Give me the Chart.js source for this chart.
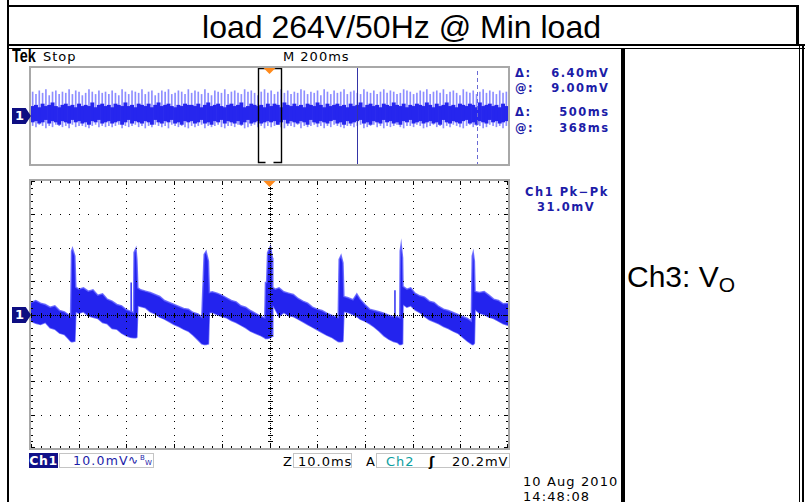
<!DOCTYPE html>
<html>
<head>
<meta charset="utf-8">
<script src="https://cdn.jsdelivr.net/npm/chart.js@4.4.0/dist/chart.umd.min.js"></script>
<style>
  html, body { margin: 0; padding: 0; background: #fff; }
  body { width: 811px; height: 502px; position: relative; overflow: hidden; }
  .ln { position: absolute; background: #000; }
  .t { position: absolute; white-space: nowrap; line-height: 1; font-family: "DejaVu Sans", sans-serif; }
  .blue { color: #1c1ca8; font-weight: bold; font-size: 11.5px; letter-spacing: 1.5px; }
  .blk { color: #000; font-size: 13px; letter-spacing: 1px; }
  .frame { position: absolute; border: 2px solid #a8a8a8; }
  .sbox { position: absolute; border: 1px solid #c4c4c4; height: 15px; box-sizing: border-box; }
  .gnd { position: absolute; width: 19px; height: 16px; background: #0e0e82; color: #fff;
         font: bold 13px "DejaVu Sans", sans-serif; line-height: 16px; padding-left: 3px; box-sizing: border-box;
         clip-path: polygon(0 0, 72% 0, 100% 50%, 72% 100%, 0 100%); }
  canvas { position: absolute; }
</style>
</head>
<body>
<!-- table frame -->
<div class="ln" style="left:7px;top:5px;width:792px;height:2px"></div>
<div class="ln" style="left:7px;top:0;width:2px;height:502px"></div>
<div class="ln" style="left:796px;top:5px;width:3px;height:41px"></div>
<div class="ln" style="left:7px;top:44px;width:798px;height:2px"></div>
<div class="ln" style="left:7px;top:48px;width:798px;height:1px"></div>
<div class="ln" style="left:621px;top:48px;width:4px;height:454px"></div>
<div class="ln" style="left:799px;top:44px;width:1px;height:458px"></div>
<div class="ln" style="left:802px;top:44px;width:2px;height:458px"></div>

<div class="t" style="left:7px;width:789px;top:11px;text-align:center;font:32px 'Liberation Sans', Arial, sans-serif;line-height:1">load 264V/50Hz @ Min load</div>
<div class="t" style="left:627px;top:262px;font:30px 'Liberation Sans', Arial, sans-serif;line-height:1">Ch3: V<span style="font-size:21px;position:relative;top:5px">O</span></div>

<!-- scope header -->
<div class="t" style="left:12px;top:47px;font:bold 18px 'Liberation Sans', Arial, sans-serif;line-height:1;transform:scaleX(.8);transform-origin:0 0">Tek</div>
<div class="t blk" style="left:43px;top:50px">Stop</div>
<div class="t blk" style="left:283px;top:50px">M 200ms</div>

<div class="t blue" style="left:515px;top:68px">Δ:</div>
<div class="t blue" style="left:540px;top:68px;width:69.5px;text-align:right">6.40mV</div>
<div class="t blue" style="left:515px;top:83px">@:</div>
<div class="t blue" style="left:540px;top:83px;width:69.5px;text-align:right">9.00mV</div>
<div class="t blue" style="left:515px;top:107px">Δ:</div>
<div class="t blue" style="left:540px;top:107px;width:69.5px;text-align:right">500ms</div>
<div class="t blue" style="left:515px;top:123px">@:</div>
<div class="t blue" style="left:540px;top:123px;width:69.5px;text-align:right">368ms</div>

<div class="t blue" style="left:525px;top:187px">Ch1 Pk−Pk</div>
<div class="t blue" style="left:537px;top:202px">31.0mV</div>

<!-- graticule frames and charts -->
<div class="frame" style="left:29px;top:66px;width:477px;height:96px"></div>
<canvas id="overview" width="477" height="96" style="left:31px;top:68px"></canvas>
<div class="frame" style="left:29px;top:179px;width:477px;height:267px"></div>
<canvas id="main" width="477" height="267" style="left:31px;top:181px"></canvas>

<div class="gnd" style="left:12px;top:108px">1</div>
<div class="gnd" style="left:12px;top:307px">1</div>

<!-- status line -->
<div class="t" style="left:29px;top:453px;width:29px;height:15px;background:#101088;color:#fff;font-weight:bold;font-size:12.5px;line-height:15px;text-align:center;letter-spacing:.5px">Ch1</div>
<div class="sbox" style="left:59px;top:453px;width:95px"></div>
<div class="t blue" style="left:73px;top:455px;font-size:12.5px;font-weight:normal;letter-spacing:1.2px">10.0mV</div>
<div class="t" style="left:128px;top:454px;color:#1c1ca8;font-size:12px">∿</div>
<div class="t" style="left:140px;top:455px;color:#1c1ca8;font-size:7px">B</div>
<div class="t" style="left:145px;top:460px;color:#1c1ca8;font-size:7px">W</div>

<div class="t blk" style="left:283px;top:455px">Z</div>
<div class="sbox" style="left:293px;top:453px;width:59px"></div>
<div class="t blk" style="left:298px;top:455px">10.0ms</div>
<div class="t blk" style="left:366px;top:455px">A</div>
<div class="sbox" style="left:376px;top:453px;width:134px"></div>
<div class="t blk" style="left:386px;top:455px;color:#0a9ea0">Ch2</div>
<div class="t blk" style="left:429px;top:455px;font-weight:bold">ʃ</div>
<div class="t blk" style="left:452px;top:455px">20.2mV</div>

<div class="t blk" style="left:523px;top:475px;letter-spacing:1.1px">10 Aug 2010</div>
<div class="t blk" style="left:523px;top:490px;letter-spacing:1.1px">14:48:08</div>

<script>
// Main window: Ch1 ripple, 10 ms/div, 10 mV/div, time relative to trigger (ms)
const traceT = [
  -50, -49, -48, -47, -46, -45, -44, -43, -42.2, -41.7,
  -41.5, -41.3, -40.8, -40.6,
  -40, -39, -38, -37, -36, -35, -34, -33, -32, -31, -30, -29.2, -28.5,
  -28.4, -28.0, -27.8, -27.6,
  -27, -26, -25, -24, -23, -22, -21, -20, -19, -18, -17, -16, -15, -14.2,
  -13.7, -13.3, -12.8, -12.6,
  -12, -11, -10, -9, -8, -7, -6, -5, -4, -3, -2, -1,
  -0.85, -0.6, -0.4, 0.2, 0.6, 0.7,
  1.2, 2, 3, 4, 5, 6, 7, 8, 9, 10, 11, 12, 13, 14.4,
  14.6, 15.0, 15.4, 15.6,
  16.5, 17.5, 18.3, 19, 20, 21, 22, 23, 24, 25, 26, 26.8, 27.3,
  27.4, 27.6, 27.9, 28.0,
  28.8, 29.6, 30.5, 31.5, 32.5, 33.5, 34.5, 35.5, 36.5, 37.5, 38.5, 39.5, 40.5, 41.5, 42.3,
  42.5, 42.7, 42.95, 43.1,
  44, 45, 46, 47, 48, 49, 50
];
const traceHi = [
  3.6, 4.2, 3.4, 3.0, 2.2, 2.6, 1.2, 0.8, 0.0, -0.6,
  19.0, 19.8, 17.5, 8.2,
  7.6, 8.0, 7.0, 7.4, 5.8, 6.2, 4.6, 4.0, 3.0, 2.6, 1.4, 1.0, 0.6,
  18.6, 19.8, 16.5, 8.0,
  7.4, 7.0, 6.6, 6.0, 5.4, 4.2, 3.6, 3.0, 2.4, 1.8, 1.6, 0.6, 0.2, -0.8,
  18.0, 18.9, 16.0, 6.6,
  6.8, 6.4, 5.8, 5.0, 4.2, 3.8, 2.6, 2.2, 1.2, 0.4, -0.4, -1.0,
  9.6, 9.6, 18.5, 20.4, 17.0, 8.1,
  7.6, 8.0, 6.8, 6.4, 6.0, 4.8, 4.0, 3.4, 2.2, 1.6, 1.2, 0.4, -0.2, -0.9,
  16.5, 17.7, 15.5, 5.4,
  5.0, 4.4, 6.2, 4.6, 3.0, 1.6, 1.2, 0.8, 0.4, -0.2, -0.6, -0.6, -1.0,
  19.0, 21.0, 17.0, 8.4,
  7.6, 8.0, 6.4, 5.6, 5.2, 4.0, 3.6, 2.4, 1.6, 1.2, 0.6, 0.0, -0.6, -1.2, -2.0,
  17.5, 18.6, 16.0, 6.9,
  6.6, 6.9, 5.8, 4.6, 4.2, 3.2, 3.4
];
const traceLo = [
  -2.0, -2.6, -3.0, -2.4, -4.0, -4.4, -5.6, -6.0, -7.2, -8.0,
  -8.2, -8.2, -8.0, 0.8,
  0.4, 0.8, -0.4, -0.8, -1.2, -2.4, -2.8, -4.2, -4.4, -5.6, -6.4, -6.8, -7.0,
  -7.0, -7.0, -6.8, 2.6,
  2.4, 2.0, 0.8, 0.2, -0.8, -1.4, -2.2, -3.0, -3.6, -4.4, -5.0, -6.2, -7.6, -8.8,
  -9.0, -9.0, -8.8, 0.6,
  0.6, 0.0, -0.6, -1.0, -1.8, -2.4, -3.2, -4.0, -5.0, -5.6, -6.2, -7.0,
  -7.2, -7.2, -7.2, -7.0, -6.5, 2.8,
  1.6, -0.6, 0.6, -0.4, -0.6, -1.4, -2.2, -3.0, -3.8, -4.6, -5.4, -6.2, -6.8, -8.1,
  -8.2, -8.2, -8.0, 0.9,
  0.6, 0.0, -0.6, -1.4, -2.0, -2.8, -3.8, -5.0, -6.4, -7.4, -8.1, -8.4, -9.0,
  -9.0, -9.0, -8.8, 3.0,
  2.2, 2.6, 1.4, 0.6, -0.6, -1.6, -2.2, -2.8, -3.6, -4.2, -5.0, -5.6, -6.8, -8.0, -8.8,
  -9.0, -9.0, -8.6, 1.5,
  0.4, 0.0, -0.8, -1.2, -2.0, -2.8, -3.2
];
// narrow glitches just before some switching spikes
const glitchT = [-29.0, 26.3];
const glitchBase = [-1.0, -2.0];
const glitchTop = [9.6, 7.3];

// Overview window: 200 ms/div record, one entry per switching spike
const spikeHi = [
  20,18,21,19,22,17,20,21,18,20,19,22,18,21,20,17,19,22,20,18,21,19,20,18,
  21,19,17,22,20,18,21,20,19,22,18,20,21,17,19,21,20,22,18,19,21,20,18,22,
  19,21,20,18,22,19,17,21,20,19,22,18,20,21,19,18,22,20,21,19,17,20,22,19,
  21,18,20,22,19,21,18,20,19,22,21,18,20,19,21,17,22,20,18,21,19,20,22,18,
  20,21,19,18,22,20,19,21,18,20,22,19,21,20,18,19,22,21,20,18,19,21,20,22,
  18,20,21,19,22,18,20,21,19,17,22,20,19,21,18,20,22,19,21,20,18,21,19,20
];
const spikeLo = [
  -8,-9,-7,-8,-10,-8,-9,-7,-8,-9,-8,-10,-7,-9,-8,-8,-9,-10,-8,-7,-9,-8,-9,-8,
  -9,-8,-7,-10,-8,-9,-8,-7,-9,-8,-10,-8,-9,-7,-8,-9,-8,-10,-7,-8,-9,-8,-9,-10,
  -8,-9,-8,-7,-10,-8,-9,-8,-7,-9,-10,-8,-8,-9,-7,-8,-10,-9,-8,-7,-9,-8,-10,-8,
  -9,-8,-7,-9,-10,-8,-8,-9,-7,-10,-8,-9,-8,-7,-9,-8,-10,-8,-9,-7,-8,-9,-10,-8,
  -8,-9,-8,-7,-10,-9,-8,-7,-9,-8,-10,-8,-9,-8,-7,-9,-10,-8,-8,-9,-7,-8,-10,-9,
  -8,-7,-9,-8,-10,-8,-9,-7,-8,-9,-10,-8,-7,-9,-8,-8,-10,-9,-7,-8,-9,-8,-10,-8
];
const coreHi = [
  8,9,7,10,8,9,11,8,7,9,10,8,9,7,10,8,9,8,11,7,9,10,8,9,
  7,10,9,8,11,8,9,7,10,9,8,10,7,9,11,8,9,10,8,7,9,8,10,9,
  9,8,10,7,9,11,8,9,10,8,7,9,10,8,9,11,7,8,10,9,8,9,7,10,
  8,10,9,7,11,9,8,10,8,9,7,10,9,8,11,9,7,10,8,9,10,8,9,7,
  10,8,9,11,7,9,10,8,9,7,10,9,8,11,9,8,10,7,9,8,10,9,8,11,
  9,7,10,8,9,11,8,9,7,10,9,8,10,9,7,11,8,9,10,8,9,7,10,8
];
const coreLo = [
  -5,-4,-6,-5,-3,-6,-4,-5,-7,-4,-5,-6,-3,-5,-4,-6,-5,-7,-4,-5,-3,-6,-5,-4,
  -6,-5,-4,-7,-5,-3,-6,-4,-5,-6,-4,-5,-7,-3,-5,-6,-4,-5,-3,-6,-5,-7,-4,-5,
  -4,-6,-5,-3,-6,-5,-7,-4,-5,-3,-6,-4,-5,-6,-4,-7,-5,-3,-6,-5,-4,-6,-5,-4,
  -5,-4,-7,-5,-3,-6,-4,-5,-6,-4,-5,-7,-3,-5,-6,-4,-5,-6,-4,-3,-6,-5,-7,-4,
  -6,-5,-4,-3,-6,-5,-7,-4,-5,-6,-3,-5,-4,-6,-5,-7,-4,-5,-3,-6,-5,-4,-6,-5,
  -4,-6,-5,-7,-3,-5,-6,-4,-5,-6,-4,-3,-6,-5,-7,-4,-5,-6,-3,-5,-4,-6,-5,-4
];
// cursors (ms after trigger) and zoom window on the overview
const cursorTimes = [368, 868];
const zoomWindow = [-50, 50];

// graticule: 10 x 8 divisions
const xMajor = [-50, -40, -30, -20, -10, 0, 10, 20, 30, 40, 50];
const yMajor = [-40, -30, -20, -10, 0, 10, 20, 30, 40];

const xMinor = [];
for (let t = -50; t <= 50; t += 2) xMinor.push(t);
const yMinor = [];
for (let v = -40; v <= 40; v += 2) yMinor.push(v);

function drawTrigger(ctx, X, top) {
    ctx.fillStyle = '#ff8a1c';
    ctx.beginPath();
    ctx.moveTo(X - 6, top);
    ctx.lineTo(X + 6, top);
    ctx.lineTo(X, top + 6);
    ctx.closePath();
    ctx.fill();
}

const graticule = {
    id: 'graticule',
    afterDatasetsDraw(chart) {
        const { ctx, chartArea: a, scales: { x, y } } = chart;
        const px = v => Math.round(x.getPixelForValue(v));
        const py = v => Math.round(y.getPixelForValue(v));
        const L = Math.round(a.left), R = Math.round(a.right) - 1;
        const T = Math.round(a.top), B = Math.round(a.bottom) - 1;
        const dot = (X, Y, w, h) => ctx.fillRect(X, Y, w || 1, h || 1);
        ctx.save();
        ctx.fillStyle = '#000';

        // dotted division lines
        xMinor.forEach(t => {
            yMajor.forEach(v => { if (v !== 0 && Math.abs(v) !== 40) dot(px(t), py(v)); });
            dot(Math.min(px(t), R), T, 1, 2);
            dot(Math.min(px(t), R), B - 1, 1, 2);
            dot(px(t), py(0) - 2, 1, 5);
        });
        yMinor.forEach(v => {
            xMajor.forEach(t => { if (t !== 0 && Math.abs(t) !== 50) dot(px(t), py(v)); });
            dot(L, Math.min(py(v), B), 2, 1);
            dot(R - 1, Math.min(py(v), B), 2, 1);
            dot(px(0) - 2, py(v), 5, 1);
        });
        // longer edge ticks on each division
        xMajor.forEach(t => { dot(Math.min(px(t), R), T, 1, 4); dot(Math.min(px(t), R), B - 3, 1, 4); });
        yMajor.forEach(v => { dot(L, Math.min(py(v), B), 4, 1); dot(R - 3, Math.min(py(v), B), 4, 1); });

        // dense centre cross
        for (let X = L; X <= R; X += 2) dot(X, py(0));
        for (let Y = T; Y <= B; Y += 2) dot(px(0), Y);

        drawTrigger(ctx, x.getPixelForValue(0), a.top);
        ctx.restore();
    }
};

const overviewMarks = {
    id: 'overviewMarks',
    afterDatasetsDraw(chart) {
        const { ctx, chartArea: a, scales: { xt } } = chart;
        ctx.save();
        // cursor 1 solid, cursor 2 dashed
        let cx = Math.round(xt.getPixelForValue(cursorTimes[0])) + 0.5;
        ctx.strokeStyle = '#3434a6';
        ctx.lineWidth = 1;
        ctx.beginPath(); ctx.moveTo(cx, a.top); ctx.lineTo(cx, a.bottom); ctx.stroke();
        cx = Math.round(xt.getPixelForValue(cursorTimes[1])) + 0.5;
        ctx.strokeStyle = '#6a6ad4';
        ctx.setLineDash([4, 3]);
        ctx.beginPath(); ctx.moveTo(cx, a.top + 3); ctx.lineTo(cx, a.bottom); ctx.stroke();
        ctx.setLineDash([]);

        // zoom window box
        const x0 = Math.round(xt.getPixelForValue(zoomWindow[0])) + 0.5;
        const x1 = Math.round(xt.getPixelForValue(zoomWindow[1])) + 0.5;
        const xm = xt.getPixelForValue(0);
        const top = a.top + 0.5, bot = a.bottom - 1.5;
        ctx.strokeStyle = '#000';
        ctx.lineWidth = 1.4;
        ctx.beginPath();
        ctx.moveTo(xm - 4, bot); ctx.lineTo(x0, bot); ctx.lineTo(x0, top); ctx.lineTo(x1, top);
        ctx.lineTo(x1, bot); ctx.lineTo(xm + 4, bot);
        ctx.stroke();
        drawTrigger(ctx, xm, a.top);
        ctx.restore();
    }
};

const noEvents = { animation: false, responsive: false, devicePixelRatio: 1, events: [],
                   layout: { padding: 0 },
                   plugins: { legend: { display: false }, tooltip: { enabled: false } } };

new Chart(document.getElementById('overview'), {
    type: 'bar',
    data: {
        labels: spikeHi.map((_, i) => i),
        datasets: [
            {
                data: spikeHi.map((h, i) => [spikeLo[i], h]),
                backgroundColor: '#8e8eff',
                barThickness: 1,
                grouped: false,
                order: 2
            },
            {
                data: coreHi.map((h, i) => [coreLo[i], h]),
                backgroundColor: '#2626ee',
                barPercentage: 1,
                categoryPercentage: 1,
                grouped: false,
                order: 1
            }
        ]
    },
    options: Object.assign({}, noEvents, {
        scales: {
            x: { display: false },
            xt: { type: 'linear', display: false, offset: false, min: -1000, max: 1000 },
            y: { display: false, min: -40, max: 40 }
        }
    }),
    plugins: [overviewMarks]
});

const glitchData = [];
glitchT.forEach((t, i) => {
    glitchData.push({ x: t, y: glitchBase[i] }, { x: t, y: glitchTop[i] }, { x: t, y: null });
});

new Chart(document.getElementById('main'), {
    type: 'line',
    data: {
        datasets: [
            {
                data: traceT.map((t, i) => ({ x: t, y: traceHi[i] })),
                borderColor: 'rgba(95,95,255,0.85)',
                borderWidth: 1.5,
                backgroundColor: '#2323ee',
                fill: '+1',
                pointRadius: 0,
                tension: 0
            },
            {
                data: traceT.map((t, i) => ({ x: t, y: traceLo[i] })),
                borderColor: 'rgba(95,95,255,0.85)',
                borderWidth: 1.5,
                fill: false,
                pointRadius: 0,
                tension: 0
            },
            {
                data: glitchData,
                borderColor: '#3030f2',
                borderWidth: 1.5,
                fill: false,
                pointRadius: 0,
                spanGaps: false
            }
        ]
    },
    options: Object.assign({}, noEvents, {
        scales: {
            x: { type: 'linear', display: false, min: -50, max: 50 },
            y: { display: false, min: -40, max: 40 }
        }
    }),
    plugins: [graticule]
});
</script>
</body>
</html>
